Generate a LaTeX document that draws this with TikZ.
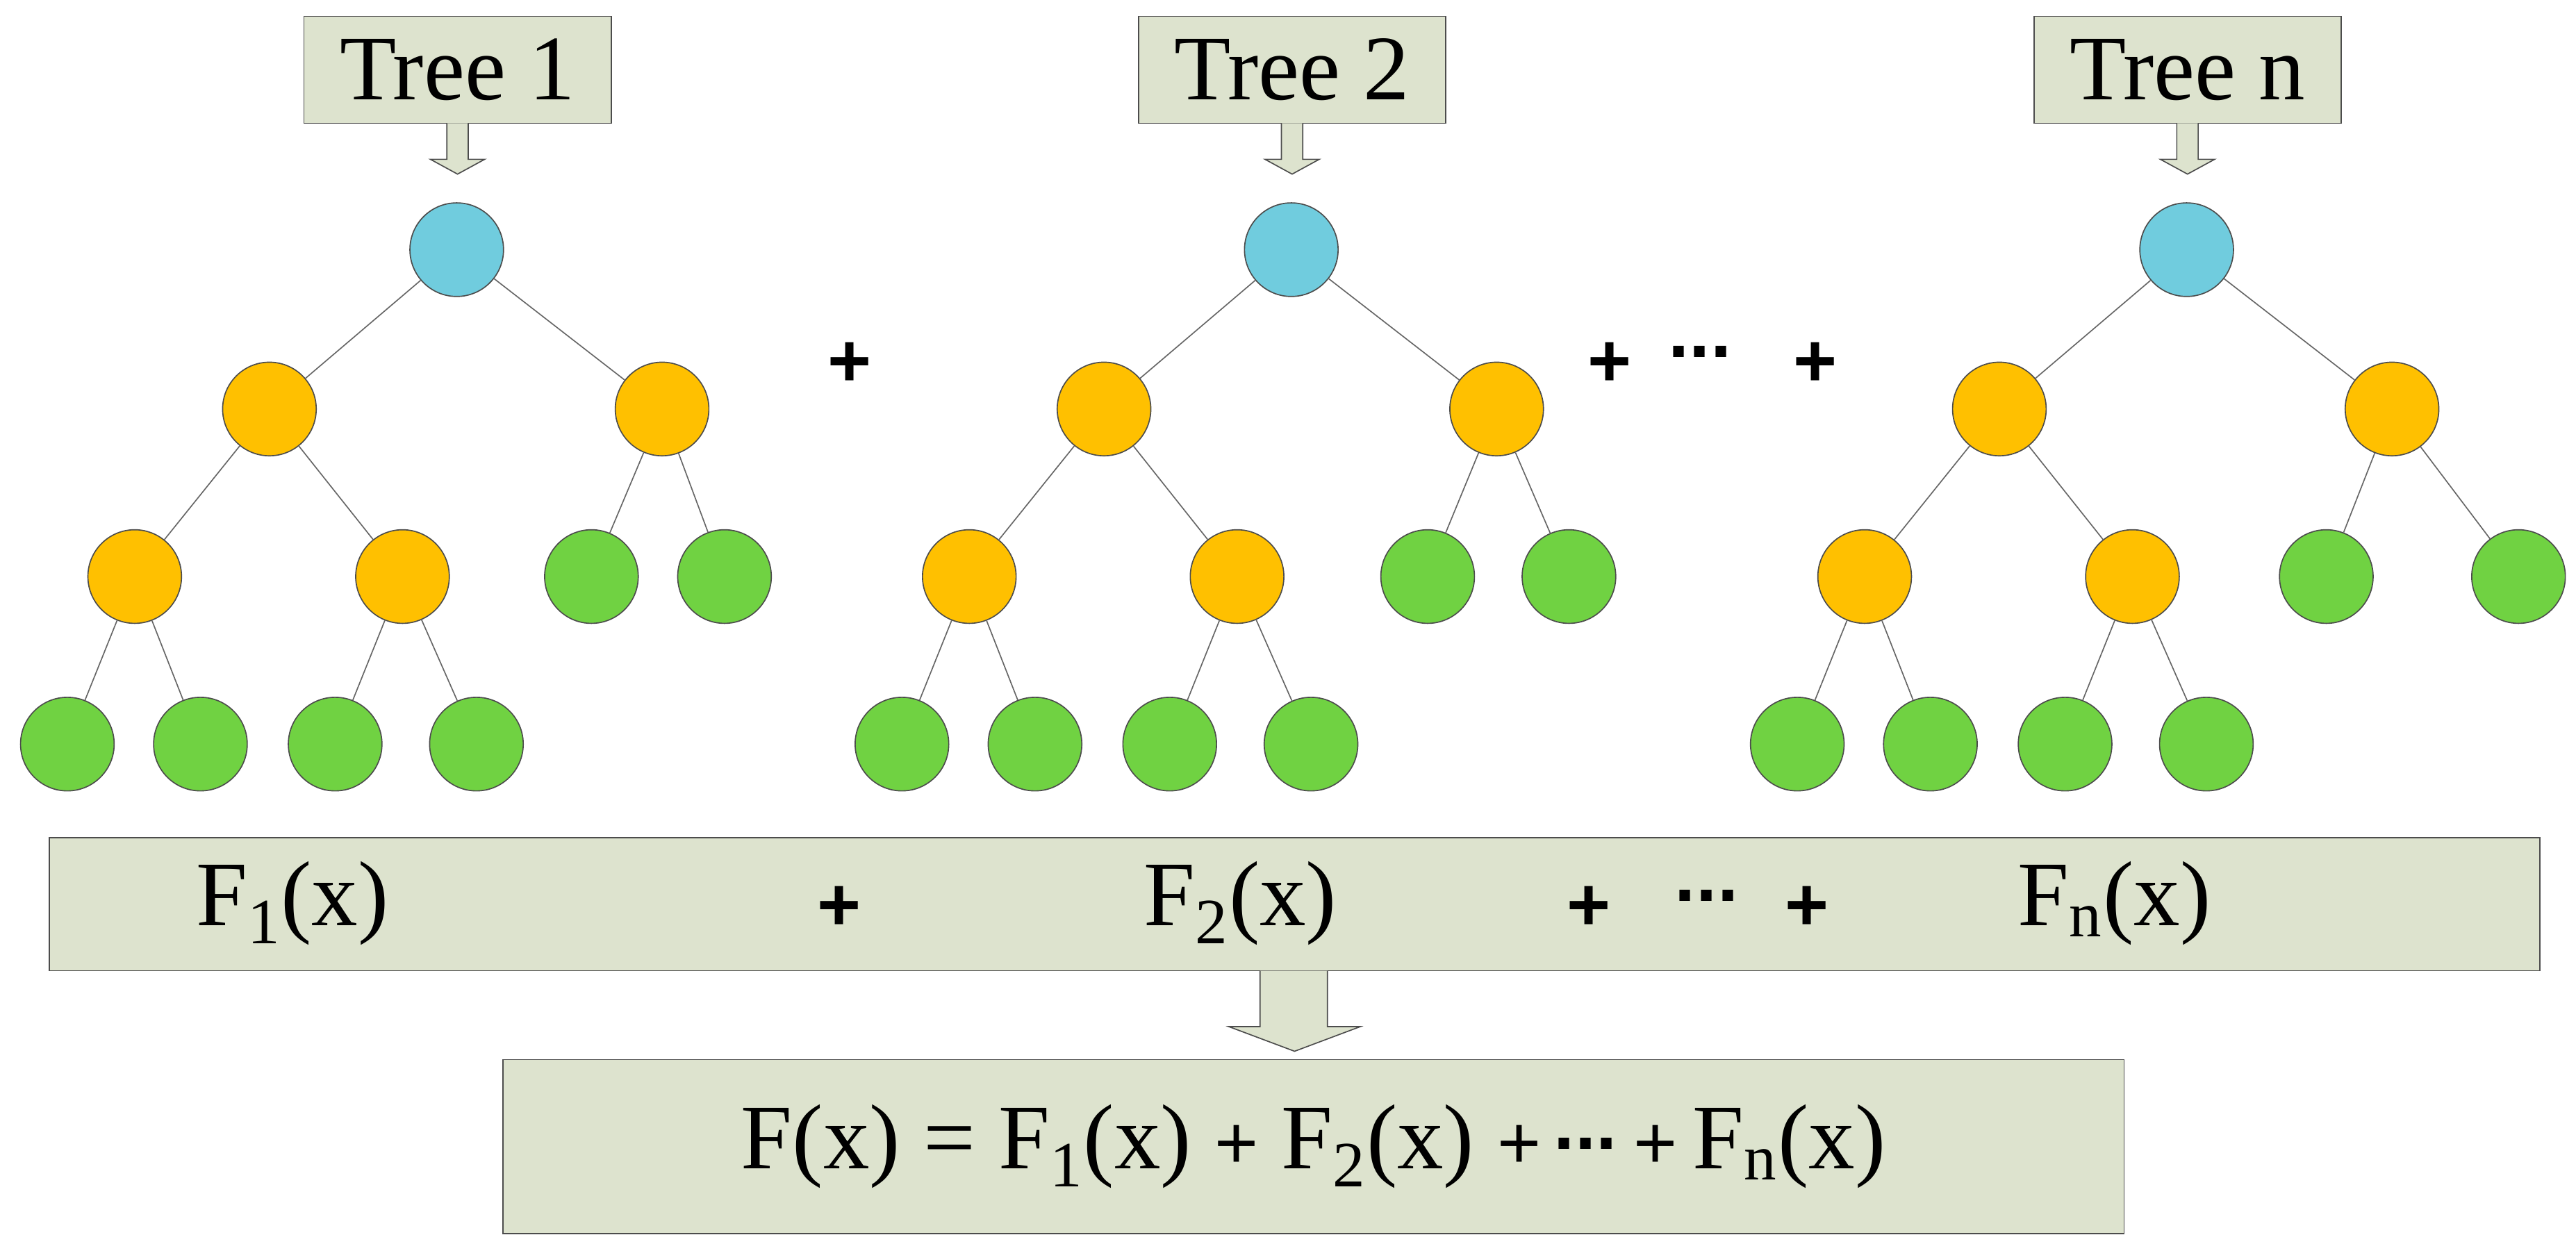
\documentclass[tikz,border=0pt]{standalone}
\usepackage{fontspec}
\setmainfont{Liberation Serif}
\newfontfamily\plusfont{Liberation Sans}
\definecolor{boxfill}{RGB}{221,227,206}
\definecolor{rootblue}{RGB}{112,204,222}
\definecolor{inorange}{RGB}{255,192,0}
\definecolor{leafgreen}{RGB}{112,210,66}
\newcommand{\tdots}{{\plusfont\bfseries\textperiodcentered\kern-0.05em\textperiodcentered\kern-0.05em\textperiodcentered}}
\tikzset{
  box/.style={draw=black!70, fill=boxfill, inner sep=0pt},
  vertex/.style={circle, draw=black!70, minimum size=1.14cm, inner sep=0pt},
  root/.style={vertex, fill=rootblue},
  inner/.style={vertex, fill=inorange},
  leaf/.style={vertex, fill=leafgreen},
  link/.style={draw=black!60, line width=0.4pt},
  plus/.style={font=\plusfont\bfseries\fontsize{26}{28}\selectfont},
  label/.style={font=\fontsize{32}{34}\selectfont},
}
\begin{document}
\begin{tikzpicture}[x=0.02cm, y=-0.02cm]
    \useasboundingbox (0,0) rectangle (1568,767);

    % Trees
    \foreach \t/\dx/\ra/\rb in {1/0/360/441, 2/508/361/447, n/1053/363/480} {
      \begin{scope}[xshift=\dx*0.02cm]
        \node[box, minimum width=3.74cm, minimum height=1.3cm, label] at (278.5, 42.5) (box\t) {Tree \t};
        \draw[draw=black!70, fill=boxfill] (272,75) -- (272,97) -- (262,97) -- (278.5,106) -- (295,97) -- (285,97) -- (285,75);
        \node[root] at (278, 152) (r\t) {};
        \node[inner] at (164, 249) (a\t) {};
        \node[inner] at (403, 249) (b\t) {};
        \node[inner] at (82, 351) (c\t) {};
        \node[inner] at (245, 351) (d\t) {};
        \node[leaf] at (\ra, 351) (e\t) {};
        \node[leaf] at (\rb, 351) (f\t) {};
        \node[leaf] at (41, 453) (g\t) {};
        \node[leaf] at (122, 453) (h\t) {};
        \node[leaf] at (204, 453) (i\t) {};
        \node[leaf] at (290, 453) (j\t) {};

        \draw[link] (r\t) -- (a\t);
        \draw[link] (r\t) -- (b\t);
        \draw[link] (a\t) -- (c\t);
        \draw[link] (a\t) -- (d\t);
        \draw[link] (b\t) -- (e\t);
        \draw[link] (b\t) -- (f\t);
        \draw[link] (c\t) -- (g\t);
        \draw[link] (c\t) -- (h\t);
        \draw[link] (d\t) -- (i\t);
        \draw[link] (d\t) -- (j\t);
      \end{scope}
    }

    \node[plus] at (517, 222) (p1) {+};
    \node[plus] at (980, 222) (p2) {+};
    \node[plus] at (1036, 220) (dots1) {\tdots};
    \node[plus] at (1105, 222) (p3) {+};

    % Sum box
    \node[box, minimum width=30.32cm, minimum height=1.62cm] at (788, 550.5) (sum) {};
    \node[label] at (178, 550) (f1) {F\textsubscript{1}(x)};
    \node[plus] at (511, 553) (s1) {+};
    \node[label] at (755, 550) (f2) {F\textsubscript{2}(x)};
    \node[plus] at (967, 553) (s2) {+};
    \node[plus] at (1040, 551) (dots2) {\tdots};
    \node[plus] at (1100, 553) (s3) {+};
    \node[label] at (1287, 550) (fn) {F\textsubscript{n}(x)};

    % Result
    \node[box, minimum width=19.74cm, minimum height=2.12cm, label] at (799.5, 698) (total)
      {F(x) = F\textsubscript{1}(x) {\plusfont\fontsize{26}{28}\selectfont+} F\textsubscript{2}(x) {\plusfont\fontsize{26}{28}\selectfont+\,\tdots\,+}\,F\textsubscript{n}(x)};
    \draw[draw=black!70, fill=boxfill] (767,591) -- (767,625) -- (748,625) -- (788,640) -- (828,625) -- (808,625) -- (808,591);
\end{tikzpicture}
\end{document}
